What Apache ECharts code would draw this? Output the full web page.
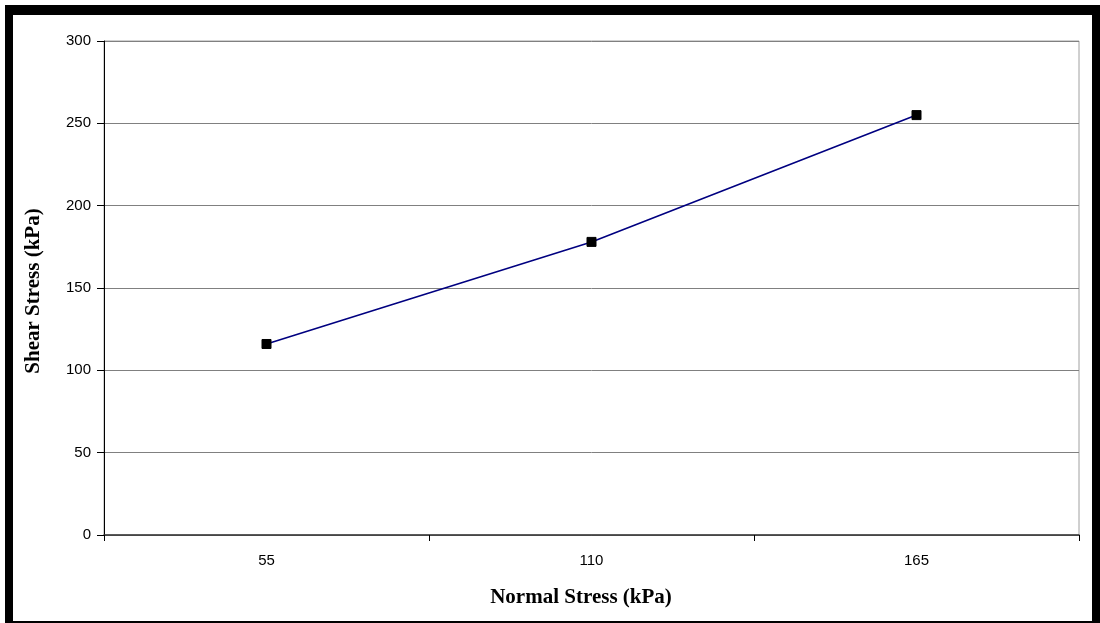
<!DOCTYPE html>
<html>
<head>
<meta charset="utf-8">
<script src="https://cdn.jsdelivr.net/npm/echarts@6/dist/echarts.min.js"></script>
<style>
  html, body { margin: 0; padding: 0; background: #fff; }
  #chart { width: 1100px; height: 623px; }
</style>
</head>
<body>
<div id="chart"></div>
<script>
// Direct shear test results
const normalStress = ['55', '110', '165'];
const shearStress = [116, 178, 255];
const yTicks = { min: 0, max: 300, interval: 50 };
const xTitle = 'Normal Stress (kPa)';
const yTitle = 'Shear Stress (kPa)';

const chart = echarts.init(document.getElementById('chart'), null, { renderer: 'canvas' });

const tickFont = { fontFamily: 'Liberation Sans, Arial, sans-serif', fontSize: 15, color: '#000' };
const titleFont = { fontFamily: 'Liberation Serif, Times New Roman, serif', fontWeight: 'bold', fill: '#000' };

chart.setOption({
  backgroundColor: '#fff',
  animation: false,
  grid: { left: 104, top: 41, right: 21, bottom: 88, show: true, borderColor: '#a0a0a0', borderWidth: 1, backgroundColor: 'transparent' },
  xAxis: {
    type: 'category',
    data: normalStress,
    boundaryGap: true,
    axisLine: { lineStyle: { color: '#333', width: 1.5 } },
    axisTick: { show: true, length: 6, inside: false, lineStyle: { color: '#000' } },
    axisLabel: Object.assign({ margin: 18 }, tickFont),
    splitLine: { show: false }
  },
  yAxis: {
    type: 'value',
    min: yTicks.min,
    max: yTicks.max,
    interval: yTicks.interval,
    axisLine: { show: true, lineStyle: { color: '#000', width: 1 } },
    axisTick: { show: true, length: 7, lineStyle: { color: '#000' } },
    axisLabel: Object.assign({ margin: 13 }, tickFont),
    splitLine: { show: true, lineStyle: { color: '#808080', width: 1 } }
  },
  series: [{
    type: 'line',
    data: shearStress,
    symbol: 'rect',
    symbolSize: 9,
    lineStyle: { color: '#000080', width: 1.6 },
    itemStyle: { color: '#000', borderColor: '#000' },
    z: 3
  }],
  graphic: [
    { type: 'text', x: 581, y: 598, style: Object.assign({ text: xTitle, align: 'center', verticalAlign: 'middle', fontSize: 21 }, titleFont) },
    { type: 'text', x: 34, y: 291, rotation: Math.PI / 2, style: Object.assign({ text: yTitle, align: 'center', verticalAlign: 'middle', fontSize: 21 }, titleFont) },
    // page frame
    { type: 'rect', shape: { x: 5, y: 5, width: 1095, height: 10 }, style: { fill: '#000' }, z: 100 },
    { type: 'rect', shape: { x: 5, y: 5, width: 8, height: 618 }, style: { fill: '#000' }, z: 100 },
    { type: 'rect', shape: { x: 1092, y: 5, width: 8, height: 618 }, style: { fill: '#000' }, z: 100 },
    { type: 'rect', shape: { x: 5, y: 621, width: 1095, height: 2 }, style: { fill: '#000' }, z: 100 }
  ]
});
</script>
</body>
</html>
